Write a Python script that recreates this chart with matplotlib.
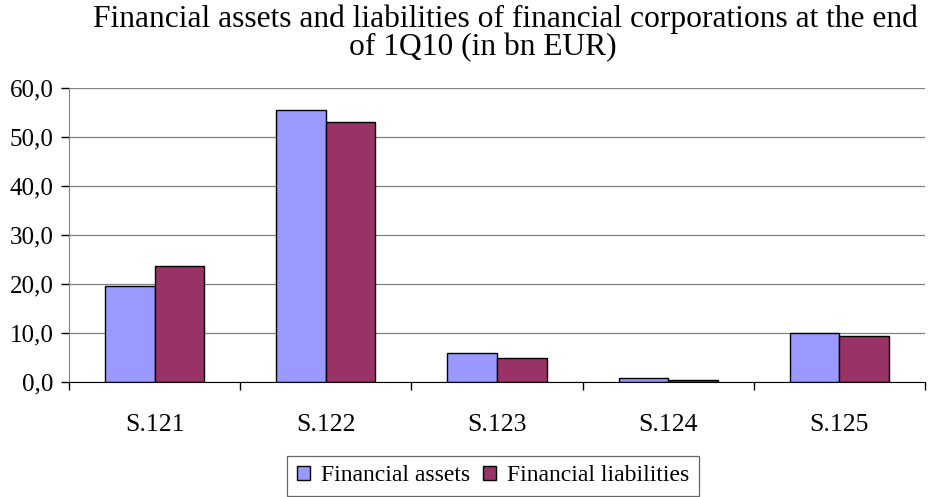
import matplotlib
matplotlib.use("Agg")
import matplotlib.pyplot as plt
import numpy as np
from matplotlib.ticker import FuncFormatter, FixedLocator

categories = ["S.121", "S.122", "S.123", "S.124", "S.125"]
assets = [19.65, 55.6, 6.0, 0.75, 10.1]
liabilities = [23.7, 53.1, 4.9, 0.4, 9.4]
series_names = ["Financial assets", "Financial liabilities"]
colors = ["#9999FF", "#993366"]
title_lines = ["Financial assets and liabilities of financial corporations at the end",
               "of 1Q10 (in bn EUR)"]

plt.rcParams['font.family'] = ['Liberation Serif', 'DejaVu Serif']

fig = plt.figure(figsize=(9.34, 4.97), dpi=100)
ax = fig.add_axes([69/934, 1-382/497, 856/934, 294/497])

x = np.arange(len(categories))
w = 0.29
ax.bar(x - w/2, assets, w, color=colors[0], edgecolor="black", linewidth=1.0, label=series_names[0], zorder=3)
ax.bar(x + w/2, liabilities, w, color=colors[1], edgecolor="black", linewidth=1.0, label=series_names[1], zorder=3)

ax.set_xlim(-0.5, len(categories) - 0.5)
ax.set_ylim(0, 60)
ax.set_yticks(np.arange(0, 61, 10))
ax.yaxis.set_major_formatter(FuncFormatter(lambda v, p: f"{v:.1f}".replace(".", ",")))
ax.set_xticks(x)
ax.set_xticklabels(categories)
ax.xaxis.set_minor_locator(FixedLocator(np.arange(-0.5, len(categories), 1.0)))
ax.tick_params(axis="x", which="major", length=0, pad=23, labelsize=18.5)
ax.tick_params(axis="x", which="minor", length=6, color="black", width=1)
ax.tick_params(axis="y", length=6, color="black", width=1, labelsize=18, pad=5)
ax.grid(axis="y", color="#808080", linewidth=0.9, zorder=0)
for s in ["top", "right"]:
    ax.spines[s].set_visible(False)
ax.spines["left"].set_color("#808080")
ax.spines["bottom"].set_color("black")
ax.spines["bottom"].set_zorder(4)

fig.text(505/934, 1-27/497, title_lines[0], ha="center", va="baseline", fontsize=22.7)
fig.text(483/934, 1-55/497, title_lines[1], ha="center", va="baseline", fontsize=22.7)

leg = fig.legend(loc="center", bbox_to_anchor=(493/934, 1-476/497), ncol=2, fontsize=17,
                 frameon=True, fancybox=False, edgecolor="#404040", handlelength=0.55, handleheight=0.55,
                 handletextpad=0.47, columnspacing=0.55, borderpad=0.4, borderaxespad=0)
leg.get_frame().set_linewidth(0.9)

fig.savefig("out.png", dpi=100)
